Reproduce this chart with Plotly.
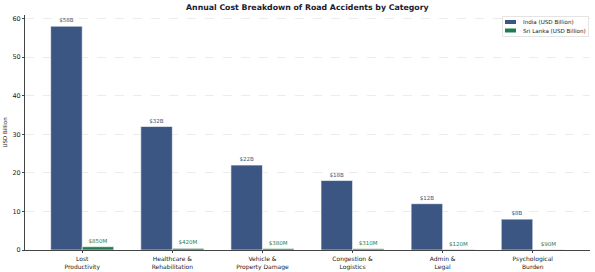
import plotly.graph_objects as go

categories = ["Lost<br>Productivity", "Healthcare &<br>Rehabilitation", "Vehicle &<br>Property Damage",
              "Congestion &<br>Logistics", "Admin &<br>Legal", "Psychological<br>Burden"]
india = [58, 32, 22, 18, 12, 8]
sri_lanka = [0.85, 0.42, 0.38, 0.31, 0.12, 0.09]
india_labels = ["$58B", "$32B", "$22B", "$18B", "$12B", "$8B"]
sl_labels = ["$850M", "$420M", "$380M", "$310M", "$120M", "$90M"]
series_names = ["India (USD Billion)", "Sri Lanka (USD Billion)"]

x = list(range(len(categories)))
india_color = "#3b5683"
sl_color = "#1e7d4e"
font = "DejaVu Sans"

W, H = 595, 272
ML, MR, MT, MB = 25, 5, 15, 22
PW, PH = W - ML - MR, H - MT - MB

def px(xp):
    return (xp - ML) / PW

def py(yp):
    return (H - MB - yp) / PH

fig = go.Figure()
fig.add_trace(go.Bar(
    x=x, y=india, width=0.35, offset=-0.35, name=series_names[0],
    marker=dict(color=india_color, line=dict(color="white", width=0.6)),
    text=india_labels, textposition="outside", cliponaxis=False, showlegend=False,
    textfont=dict(size=5.5, color=india_color, family=font),
))
fig.add_trace(go.Bar(
    x=x, y=sri_lanka, width=0.35, offset=0, name=series_names[1],
    marker=dict(color=sl_color, line=dict(color="white", width=0.6)),
    text=sl_labels, textposition="outside", cliponaxis=False, showlegend=False,
    textfont=dict(size=5.5, color=sl_color, family=font),
))

# custom compact legend
shapes = [dict(type="rect", xref="paper", yref="paper",
               x0=px(502.5), x1=px(588.5), y0=py(36.5), y1=py(16.5),
               line=dict(color="#d8d8d8", width=0.7), fillcolor="white", layer="above")]
annotations = []
for i, (name, col) in enumerate(zip(series_names, [india_color, sl_color])):
    yc = 22 + i * 8.5
    shapes.append(dict(type="rect", xref="paper", yref="paper",
                       x0=px(505), x1=px(516), y0=py(yc + 2), y1=py(yc - 2),
                       line=dict(width=0), fillcolor=col, layer="above"))
    annotations.append(dict(xref="paper", yref="paper", x=px(520.5), y=py(yc),
                            text=name, showarrow=False, xanchor="left", yanchor="middle",
                            font=dict(size=5.6, color="#222", family=font)))

fig.update_layout(
    width=W, height=H, barmode="overlay",
    margin=dict(l=ML, r=MR, t=MT, b=MB, autoexpand=False),
    paper_bgcolor="white", plot_bgcolor="white",
    font=dict(family=font, size=6, color="#222"),
    title=dict(text="<b>Annual Cost Breakdown of Road Accidents by Category</b>",
               x=0.5165, xanchor="center", y=0.972, yanchor="middle",
               font=dict(size=7.8, color="#1a1a2e", family=font)),
    showlegend=False,
    shapes=shapes, annotations=annotations,
)
fig.update_xaxes(range=[-0.635, 5.635], tickvals=x, ticktext=categories,
                 showline=True, linecolor="#444", linewidth=1, ticks="outside",
                 ticklen=2, tickcolor="#444", showgrid=False, zeroline=False,
                 automargin=False, ticklabelstandoff=1,
                 tickfont=dict(size=6, color="#222"))
fig.update_yaxes(range=[0, 60.9], tickvals=[0, 10, 20, 30, 40, 50, 60],
                 showline=True, linecolor="#444", linewidth=1, ticks="outside",
                 ticklen=2, tickcolor="#444", showgrid=True, gridcolor="#ececec",
                 griddash="dash", gridwidth=0.6, zeroline=False, automargin=False,
                 tickfont=dict(size=6.5, color="#222"),
                 title=dict(text="USD Billion", font=dict(size=5.5), standoff=4))

fig.write_html("out.html")
